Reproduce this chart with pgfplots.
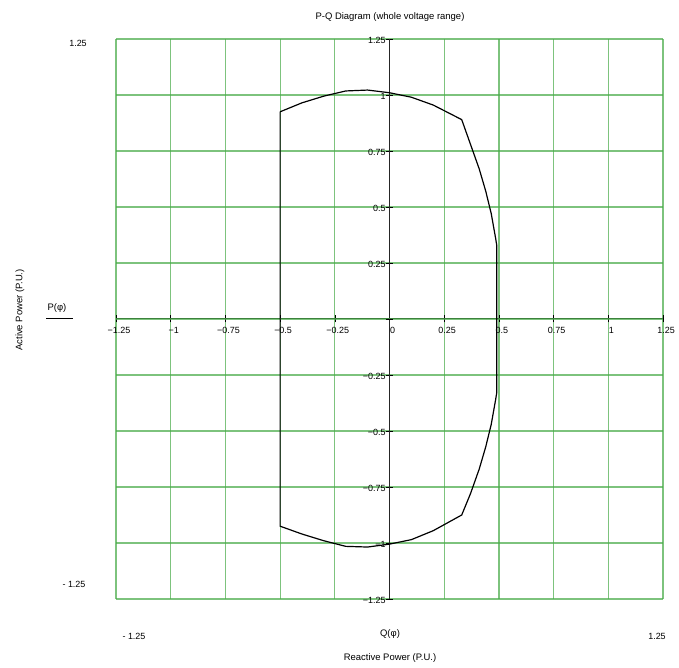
\documentclass[border=0pt]{standalone}
\usepackage{pgfplots}
\pgfplotsset{compat=1.18}
\usepackage{fontspec}
\setmainfont{Liberation Sans}
\definecolor{gridgreen}{RGB}{70,170,70}
\begin{document}
\begin{tikzpicture}[x=1bp,y=1bp]
\useasboundingbox (0,0) rectangle (679,668);
\begin{axis}[
  at={(116bp,69bp)}, anchor=south west,
  scale only axis, width=547bp, height=560bp,
  xmin=-1.25, xmax=1.25, ymin=-1.25, ymax=1.25,
  axis lines=middle,
  hide obscured x ticks=false,
  axis line style={black!85, line width=1pt, -},
  xtick={-1.25,-1,-0.75,-0.5,-0.25,0,0.25,0.5,0.75,1,1.25},
  xticklabels={−1.25,−1,−0.75,−0.5,−0.25,0,0.25,0.5,0.75,1,1.25},
  ytick={-1.25,-1,-0.75,-0.5,-0.25,0.25,0.5,0.75,1,1.25},
  yticklabels={−1.25,−1,−0.75,−0.5,−0.25,0.25,0.5,0.75,1,1.25},
  extra y ticks={0}, extra y tick labels={},
  extra y tick style={grid=major},
  tick align=center, major tick length=7bp,
  tick style={black, line width=0.6pt},
  grid=major,
  major grid style={gridgreen, line width=1.2pt, opacity=0.7},
  xticklabel style={font=\fontsize{9}{10}\selectfont, anchor=north, yshift=-1bp, xshift=3bp},
  yticklabel style={font=\fontsize{9}{10}\selectfont, anchor=east, xshift=3bp, yshift=-1bp},
  clip=false,
]
\addplot[black, line width=1.2pt] coordinates {
(-0.5,0.925) (-0.4,0.965) (-0.3,0.995) (-0.2,1.018) (-0.1,1.022) (0,1.01)
(0.1,0.99) (0.2,0.955) (0.33,0.89) (0.37,0.78) (0.41,0.67) (0.44,0.57)
(0.465,0.47) (0.485,0.36) (0.49,0.33)
(0.49,-0.33) (0.485,-0.36) (0.465,-0.47) (0.44,-0.57) (0.41,-0.67)
(0.37,-0.78) (0.33,-0.875) (0.2,-0.945) (0.1,-0.985) (0,-1.005)
(-0.1,-1.018) (-0.2,-1.015) (-0.3,-0.99) (-0.4,-0.96) (-0.5,-0.925)
(-0.5,0.925)
};
\end{axis}
\node[font=\fontsize{9.5}{10}\selectfont] at (390,651) {P-Q Diagram (whole voltage range)};
\node[font=\fontsize{9}{10}\selectfont] at (78,625) {1.25};
\node[font=\fontsize{9}{10}\selectfont] at (74,84) {- 1.25};
\node[font=\fontsize{9}{10}\selectfont] at (134,32) {- 1.25};
\node[font=\fontsize{9}{10}\selectfont] at (657,32) {1.25};
\node[font=\fontsize{9.5}{10}\selectfont] at (390,34) {Q(φ)};
\node[font=\fontsize{9.5}{10}\selectfont] at (390,10) {Reactive Power (P.U.)};
\node[font=\fontsize{9.5}{10}\selectfont] at (57,360) {P(φ)};
\draw[black, line width=0.8pt] (46,350) -- (73,350);
\node[font=\fontsize{9.5}{10}\selectfont, rotate=90] at (20,358) {Active Power (P.U.)};
\end{tikzpicture}
\end{document}
